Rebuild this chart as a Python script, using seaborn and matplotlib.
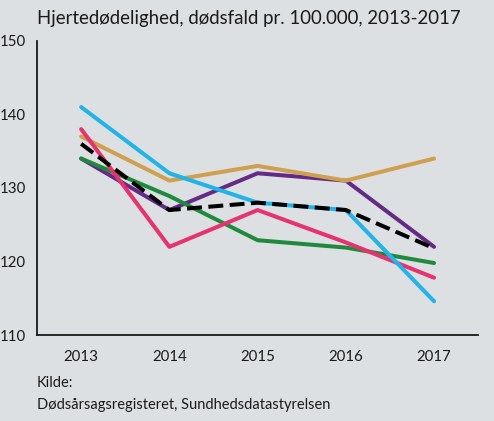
import pandas as pd
import seaborn as sns
import matplotlib.pyplot as plt
from matplotlib.ticker import FixedLocator


years = ['2013', '2014', '2015', '2016', '2017']

blue = [141, 132, 128, 127, 114.6]
gold = [137, 131, 133, 131, 134]
pink = [138, 122, 127, 122.6, 117.8]
green = [134, 128.9, 122.9, 121.9, 119.8]
purple = [134, 127, 132, 131, 122]
total = [136, 127, 128, 127, 121.8]

colors = {
    'lilla': '#652a86',
    'grøn': '#1f8a3d',
    'guld': '#cfa04f',
    'rød': '#e63370',
    'blå': '#22b3e8',
    'hele landet': '#000000',
}

bg = '#dde0e2'

series = {
    'lilla': purple,
    'grøn': green,
    'guld': gold,
    'rød': pink,
    'blå': blue,
    'hele landet': total,
}

df = pd.DataFrame(
    [
        {'serie': name, 'x': i, 'value': v}
        for name, values in series.items()
        for i, v in enumerate(values)
    ]
)

sns.set_style('white')
plt.rcParams['font.family'] = ['Lato', 'DejaVu Sans']

fig = plt.figure(figsize=(4.94, 4.21), dpi=100, facecolor=bg)
ax = fig.add_axes([0.075, 0.204, 0.893, 0.699])
ax.set_facecolor(bg)

for name in series:
    sns.lineplot(
        data=df[df['serie'] == name],
        x='x',
        y='value',
        color=colors[name],
        linewidth=2.9,
        linestyle='--' if name == 'hele landet' else '-',
        dashes=(2.2, 1.6) if name == 'hele landet' else (None, None),
        ax=ax,
        legend=False,
    )

ax.set_xlim(-0.5, 4.5)
ax.set_ylim(110, 150)
ax.set_yticks([110, 120, 130, 140, 150])
ax.set_xticks(range(len(years)))
ax.set_xticklabels(years)
ax.xaxis.set_minor_locator(FixedLocator([0.5, 1.5, 2.5, 3.5, 4.5]))

ax.tick_params(axis='x', which='major', length=0, pad=11, labelsize=10.8, colors='#1a1a1a')
ax.tick_params(axis='x', which='minor', length=7, width=1.3, direction='in', color='#1a1a1a')
ax.tick_params(axis='y', length=10, width=1.3, direction='in', pad=8, labelsize=10.8, colors='#1a1a1a')

for side in ['top', 'right']:
    ax.spines[side].set_visible(False)
for side in ['left', 'bottom']:
    ax.spines[side].set_color('#1a1a1a')
    ax.spines[side].set_linewidth(1.3)

ax.set_xlabel('')
ax.set_ylabel('')

fig.text(0.075, 0.955, 'Hjertedødelighed, dødsfald pr. 100.000, 2013-2017',
         fontsize=13.4, color='#1a1a1a', va='center')
fig.text(0.075, 0.09, 'Kilde:', fontsize=10.5, color='#1a1a1a', va='center')
fig.text(0.075, 0.038, 'Dødsårsagsregisteret, Sundhedsdatastyrelsen',
         fontsize=10.5, color='#1a1a1a', va='center')

fig.savefig('out.png', dpi=100, facecolor=bg)
